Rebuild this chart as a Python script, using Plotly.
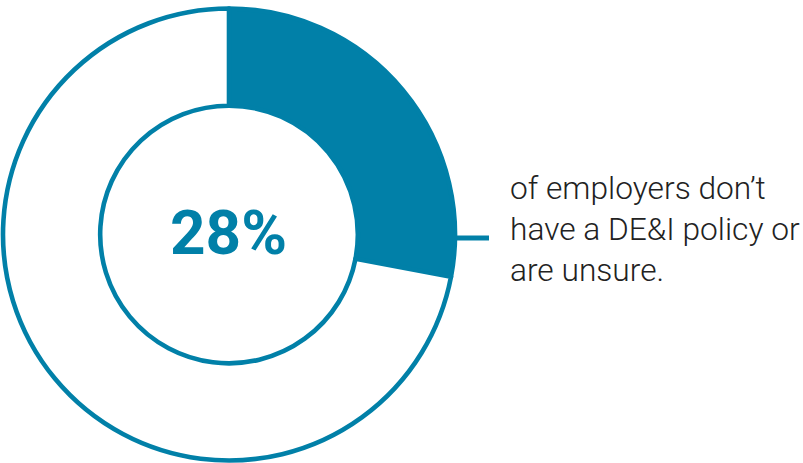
import plotly.graph_objects as go

labels = ["No DE&I policy or unsure", "Other"]
values = [28, 72]
center_text = "28%"
caption_lines = ["of employers don\u2019t", "have a DE&I policy or", "are unsure."]

TEAL = "#0180A8"
W, H = 803, 463
cx, cy, r = 229, 234.5, 226

fig = go.Figure(go.Pie(
    labels=labels,
    values=values,
    hole=0.57,
    sort=False,
    direction="clockwise",
    rotation=0,
    textinfo="none",
    hoverinfo="none",
    marker=dict(colors=[TEAL, "white"], line=dict(color=TEAL, width=4.6)),
    domain=dict(x=[(cx - r) / W, (cx + r) / W], y=[1 - (cy + r) / H, 1 - (cy - r) / H]),
    showlegend=False,
))

fig.add_annotation(
    x=cx / W, y=1 - 233 / H, xref="paper", yref="paper",
    text="<b>" + center_text + "</b>", showarrow=False,
    font=dict(family="Roboto", size=62, color=TEAL),
    xanchor="center", yanchor="middle",
)

fig.add_shape(type="line", xref="paper", yref="paper",
              x0=457 / W, x1=489 / W, y0=1 - 238 / H, y1=1 - 238 / H,
              line=dict(color=TEAL, width=5))

fig.add_annotation(
    x=508 / W, y=1 - 229 / H, xref="paper", yref="paper",
    text="<br>".join(caption_lines), showarrow=False, align="left",
    font=dict(family="Roboto", size=31.7, color="#222222", weight=300),
    xanchor="left", yanchor="middle",
)

fig.update_layout(
    width=W, height=H,
    margin=dict(l=0, r=0, t=0, b=0),
    paper_bgcolor="white", plot_bgcolor="white",
)

fig.write_html("out.html", config={"displayModeBar": False},
               post_script="document.body.style.margin='0';document.body.style.padding='0';")
